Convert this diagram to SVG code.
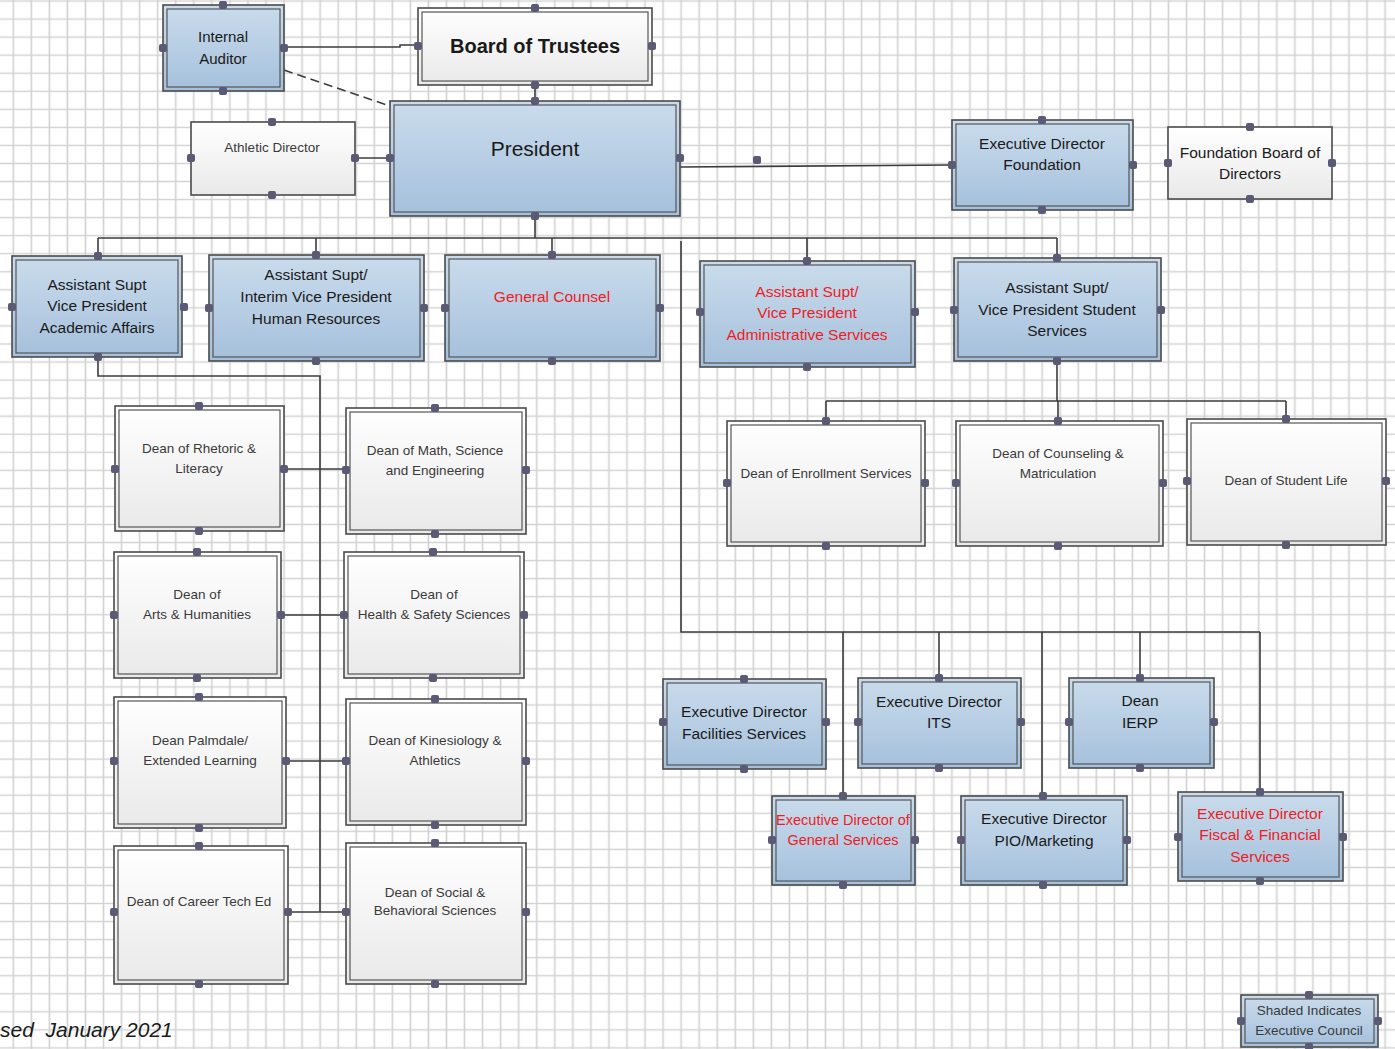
<svg xmlns="http://www.w3.org/2000/svg" width="1395" height="1049" viewBox="0 0 1395 1049">
<defs>
<pattern id="grid" patternUnits="userSpaceOnUse" x="4.3" y="-8" width="18.05" height="18.05">
<path d="M9 0 V18.05 M0 9 H18.05" stroke="#d2d2d2" stroke-width="1.6" fill="none"/>
</pattern>
<linearGradient id="gb" x1="0" y1="0" x2="0" y2="1">
<stop offset="0" stop-color="#cadcec"/>
<stop offset="1" stop-color="#a5c0dc"/>
</linearGradient>
<linearGradient id="gw" x1="0" y1="0" x2="0" y2="1">
<stop offset="0" stop-color="#ffffff"/>
<stop offset="1" stop-color="#e9e9e9"/>
</linearGradient>
<style>
.b{fill:url(#gb);stroke:#4a4a4a;stroke-width:1.6}
.w{fill:url(#gw);stroke:#4a4a4a;stroke-width:1.6}
.i{fill:none;stroke:#555;stroke-width:1.2}
.t{font-family:"Liberation Sans",Arial,sans-serif;font-size:15.5px;fill:#1a1a1a;text-anchor:middle}
.s{font-family:"Liberation Sans",Arial,sans-serif;font-size:13.5px;fill:#3a3a3a;text-anchor:middle}
.r{fill:#ee1c24}
.c{fill:none;stroke:#3c3c3c;stroke-width:1.6}
.d{fill:#5a5a74}
</style>
</defs>
<rect x="0" y="0" width="1395" height="1049" fill="#ffffff"/>
<rect x="0" y="0" width="1395" height="1049" fill="url(#grid)"/>

<g id="connectors">
<path class="c" d="M284 47 H400 V45 H418"/>
<path class="c" d="M284 70 L390 106" stroke-dasharray="9 5" stroke="#555"/>
<path class="c" d="M535 85 V101"/>
<path class="c" d="M355 158 H390"/>
<path class="c" d="M680 167 L952 165"/>
<path class="c" d="M535 216 V238 M98 238 H1057 M98 238 V256 M316 238 V255 M552 238 V255 M807 238 V261 M1057 238 V258"/>
<path class="c" d="M681 241 V632 H1260 M843 632 V796 M939 632 V678 M1042 632 V796 M1140 632 V678 M1260 632 V792"/>
<path class="c" d="M1057 361 V401 M826 401 H1286 M826 401 V421 M1058 401 V421 M1286 401 V419"/>
<path class="c" d="M98 357 V376 H320 V912 M284 469 H346 M281 615 H344 M286 761 H346 M288 912 H346"/>
<rect class="d" x="753" y="156" width="8" height="8" rx="2"/>
</g>

<g id="internal-auditor">
<rect class="b" x="163" y="5" width="121" height="86"/><rect class="i" x="167" y="9" width="113" height="78"/>
<text class="t" x="223" y="41.5" style="font-size:15px">Internal</text><text class="t" x="223" y="63.5" style="font-size:15px">Auditor</text>
<rect class="d" x="219" y="1" width="8" height="8" rx="2"/><rect class="d" x="219" y="87" width="8" height="8" rx="2"/><rect class="d" x="159" y="44" width="8" height="8" rx="2"/><rect class="d" x="280" y="44" width="8" height="8" rx="2"/>
</g>

<g id="board-of-trustees">
<rect class="w" x="418" y="8" width="234" height="77"/><rect class="i" x="422" y="12" width="226" height="69"/>
<text class="t" x="535" y="53" style="font-weight:bold;font-size:20px">Board of Trustees</text>
<rect class="d" x="531" y="4" width="8" height="8" rx="2"/><rect class="d" x="531" y="81" width="8" height="8" rx="2"/><rect class="d" x="414" y="42" width="8" height="8" rx="2"/><rect class="d" x="648" y="42" width="8" height="8" rx="2"/>
</g>

<g id="president">
<rect class="b" x="390" y="101" width="290" height="115"/><rect class="i" x="394" y="105" width="282" height="107"/>
<text class="t" x="535" y="155.5" style="font-size:21px">President</text>
<rect class="d" x="531" y="97" width="8" height="8" rx="2"/><rect class="d" x="531" y="212" width="8" height="8" rx="2"/><rect class="d" x="386" y="154" width="8" height="8" rx="2"/><rect class="d" x="676" y="154" width="8" height="8" rx="2"/>
</g>

<g id="athletic-director">
<rect class="w" x="191" y="122" width="164" height="73"/>
<text class="s" x="272" y="152">Athletic Director</text>
<rect class="d" x="268" y="118" width="8" height="8" rx="2"/><rect class="d" x="268" y="191" width="8" height="8" rx="2"/><rect class="d" x="187" y="154" width="8" height="8" rx="2"/><rect class="d" x="351" y="154" width="8" height="8" rx="2"/>
</g>

<g id="exec-director-foundation">
<rect class="b" x="952" y="120" width="181" height="90"/><rect class="i" x="956" y="124" width="173" height="82"/>
<text class="t" x="1042" y="148.5">Executive Director</text><text class="t" x="1042" y="169.5">Foundation</text>
<rect class="d" x="1038" y="116" width="8" height="8" rx="2"/><rect class="d" x="1038" y="206" width="8" height="8" rx="2"/><rect class="d" x="948" y="161" width="8" height="8" rx="2"/><rect class="d" x="1129" y="161" width="8" height="8" rx="2"/>
</g>

<g id="foundation-board">
<rect class="w" x="1168" y="127" width="164" height="72"/>
<text class="t" x="1250" y="157.5">Foundation Board of</text><text class="t" x="1250" y="178.5">Directors</text>
<rect class="d" x="1246" y="123" width="8" height="8" rx="2"/><rect class="d" x="1246" y="195" width="8" height="8" rx="2"/><rect class="d" x="1164" y="159" width="8" height="8" rx="2"/><rect class="d" x="1328" y="159" width="8" height="8" rx="2"/>
</g>

<g id="vp-academic-affairs">
<rect class="b" x="12" y="256" width="170" height="101"/><rect class="i" x="16" y="260" width="162" height="93"/>
<text class="t" x="97" y="289.5">Assistant Supt</text><text class="t" x="97" y="310.5">Vice President</text><text class="t" x="97" y="332.5">Academic Affairs</text>
<rect class="d" x="94" y="252" width="8" height="8" rx="2"/><rect class="d" x="94" y="353" width="8" height="8" rx="2"/><rect class="d" x="8" y="303" width="8" height="8" rx="2"/><rect class="d" x="180" y="303" width="8" height="8" rx="2"/>
</g>

<g id="vp-human-resources">
<rect class="b" x="209" y="255" width="215" height="106"/><rect class="i" x="213" y="259" width="207" height="98"/>
<text class="t" x="316" y="279.5">Assistant Supt/</text><text class="t" x="316" y="301.5">Interim Vice President</text><text class="t" x="316" y="323.5">Human Resources</text>
<rect class="d" x="312" y="251" width="8" height="8" rx="2"/><rect class="d" x="312" y="357" width="8" height="8" rx="2"/><rect class="d" x="205" y="304" width="8" height="8" rx="2"/><rect class="d" x="420" y="304" width="8" height="8" rx="2"/>
</g>

<g id="general-counsel">
<rect class="b" x="445" y="255" width="215" height="106"/><rect class="i" x="449" y="259" width="207" height="98"/>
<text class="t r" x="552" y="301.5">General Counsel</text>
<rect class="d" x="548" y="251" width="8" height="8" rx="2"/><rect class="d" x="548" y="357" width="8" height="8" rx="2"/><rect class="d" x="441" y="304" width="8" height="8" rx="2"/><rect class="d" x="656" y="304" width="8" height="8" rx="2"/>
</g>

<g id="vp-administrative-services">
<rect class="b" x="700" y="261" width="215" height="106"/><rect class="i" x="704" y="265" width="207" height="98"/>
<text class="t r" x="807" y="296.5">Assistant Supt/</text><text class="t r" x="807" y="317.5">Vice President</text><text class="t r" x="807" y="339.5">Administrative Services</text>
<rect class="d" x="803" y="257" width="8" height="8" rx="2"/><rect class="d" x="803" y="363" width="8" height="8" rx="2"/><rect class="d" x="696" y="308" width="8" height="8" rx="2"/><rect class="d" x="911" y="308" width="8" height="8" rx="2"/>
</g>

<g id="vp-student-services">
<rect class="b" x="954" y="258" width="207" height="103"/><rect class="i" x="958" y="262" width="199" height="95"/>
<text class="t" x="1057" y="292.5">Assistant Supt/</text><text class="t" x="1057" y="314.5">Vice President Student</text><text class="t" x="1057" y="335.5">Services</text>
<rect class="d" x="1053" y="254" width="8" height="8" rx="2"/><rect class="d" x="1053" y="357" width="8" height="8" rx="2"/><rect class="d" x="950" y="306" width="8" height="8" rx="2"/><rect class="d" x="1157" y="306" width="8" height="8" rx="2"/>
</g>

<g id="dean-rhetoric">
<rect class="w" x="115" y="406" width="169" height="125"/><rect class="i" x="119" y="410" width="161" height="117"/>
<text class="s" x="199" y="453">Dean of Rhetoric &amp;</text><text class="s" x="199" y="473">Literacy</text>
<rect class="d" x="195" y="402" width="8" height="8" rx="2"/><rect class="d" x="195" y="527" width="8" height="8" rx="2"/><rect class="d" x="111" y="465" width="8" height="8" rx="2"/><rect class="d" x="280" y="465" width="8" height="8" rx="2"/>
</g>

<g id="dean-math">
<rect class="w" x="346" y="408" width="180" height="126"/><rect class="i" x="350" y="412" width="172" height="118"/>
<text class="s" x="435" y="455">Dean of Math, Science</text><text class="s" x="435" y="475">and Engineering</text>
<rect class="d" x="431" y="404" width="8" height="8" rx="2"/><rect class="d" x="431" y="530" width="8" height="8" rx="2"/><rect class="d" x="342" y="466" width="8" height="8" rx="2"/><rect class="d" x="522" y="466" width="8" height="8" rx="2"/>
</g>

<g id="dean-arts">
<rect class="w" x="114" y="552" width="167" height="126"/><rect class="i" x="118" y="556" width="159" height="118"/>
<text class="s" x="197" y="599">Dean of</text><text class="s" x="197" y="619">Arts &amp; Humanities</text>
<rect class="d" x="193" y="548" width="8" height="8" rx="2"/><rect class="d" x="193" y="674" width="8" height="8" rx="2"/><rect class="d" x="110" y="611" width="8" height="8" rx="2"/><rect class="d" x="277" y="611" width="8" height="8" rx="2"/>
</g>

<g id="dean-health">
<rect class="w" x="344" y="552" width="180" height="126"/><rect class="i" x="348" y="556" width="172" height="118"/>
<text class="s" x="434" y="599">Dean of</text><text class="s" x="434" y="619">Health &amp; Safety Sciences</text>
<rect class="d" x="429" y="548" width="8" height="8" rx="2"/><rect class="d" x="429" y="674" width="8" height="8" rx="2"/><rect class="d" x="340" y="611" width="8" height="8" rx="2"/><rect class="d" x="520" y="611" width="8" height="8" rx="2"/>
</g>

<g id="dean-palmdale">
<rect class="w" x="114" y="697" width="172" height="131"/><rect class="i" x="118" y="701" width="164" height="123"/>
<text class="s" x="200" y="745">Dean Palmdale/</text><text class="s" x="200" y="765">Extended Learning</text>
<rect class="d" x="195" y="693" width="8" height="8" rx="2"/><rect class="d" x="195" y="824" width="8" height="8" rx="2"/><rect class="d" x="110" y="757" width="8" height="8" rx="2"/><rect class="d" x="282" y="757" width="8" height="8" rx="2"/>
</g>

<g id="dean-kinesiology">
<rect class="w" x="346" y="699" width="180" height="126"/><rect class="i" x="350" y="703" width="172" height="118"/>
<text class="s" x="435" y="745">Dean of Kinesiology &amp;</text><text class="s" x="435" y="765">Athletics</text>
<rect class="d" x="431" y="695" width="8" height="8" rx="2"/><rect class="d" x="431" y="821" width="8" height="8" rx="2"/><rect class="d" x="342" y="757" width="8" height="8" rx="2"/><rect class="d" x="522" y="757" width="8" height="8" rx="2"/>
</g>

<g id="dean-career-tech">
<rect class="w" x="114" y="846" width="174" height="138"/><rect class="i" x="118" y="850" width="166" height="130"/>
<text class="s" x="199" y="906">Dean of Career Tech Ed</text>
<rect class="d" x="195" y="842" width="8" height="8" rx="2"/><rect class="d" x="195" y="980" width="8" height="8" rx="2"/><rect class="d" x="110" y="908" width="8" height="8" rx="2"/><rect class="d" x="284" y="908" width="8" height="8" rx="2"/>
</g>

<g id="dean-social">
<rect class="w" x="346" y="843" width="180" height="141"/><rect class="i" x="350" y="847" width="172" height="133"/>
<text class="s" x="435" y="897">Dean of Social &amp;</text><text class="s" x="435" y="915">Behavioral Sciences</text>
<rect class="d" x="431" y="839" width="8" height="8" rx="2"/><rect class="d" x="431" y="980" width="8" height="8" rx="2"/><rect class="d" x="342" y="908" width="8" height="8" rx="2"/><rect class="d" x="522" y="908" width="8" height="8" rx="2"/>
</g>

<g id="dean-enrollment">
<rect class="w" x="727" y="421" width="198" height="125"/><rect class="i" x="731" y="425" width="190" height="117"/>
<text class="s" x="826" y="478">Dean of Enrollment Services</text>
<rect class="d" x="822" y="417" width="8" height="8" rx="2"/><rect class="d" x="822" y="542" width="8" height="8" rx="2"/><rect class="d" x="723" y="479" width="8" height="8" rx="2"/><rect class="d" x="921" y="479" width="8" height="8" rx="2"/>
</g>

<g id="dean-counseling">
<rect class="w" x="956" y="421" width="207" height="125"/><rect class="i" x="960" y="425" width="199" height="117"/>
<text class="s" x="1058" y="458">Dean of Counseling &amp;</text><text class="s" x="1058" y="478">Matriculation</text>
<rect class="d" x="1054" y="417" width="8" height="8" rx="2"/><rect class="d" x="1054" y="542" width="8" height="8" rx="2"/><rect class="d" x="952" y="479" width="8" height="8" rx="2"/><rect class="d" x="1159" y="479" width="8" height="8" rx="2"/>
</g>

<g id="dean-student-life">
<rect class="w" x="1187" y="419" width="199" height="126"/><rect class="i" x="1191" y="423" width="191" height="118"/>
<text class="s" x="1286" y="485">Dean of Student Life</text>
<rect class="d" x="1282" y="415" width="8" height="8" rx="2"/><rect class="d" x="1282" y="541" width="8" height="8" rx="2"/><rect class="d" x="1183" y="477" width="8" height="8" rx="2"/><rect class="d" x="1382" y="477" width="8" height="8" rx="2"/>
</g>

<g id="exec-facilities">
<rect class="b" x="663" y="679" width="163" height="90"/><rect class="i" x="667" y="683" width="155" height="82"/>
<text class="t" x="744" y="716.5">Executive Director</text><text class="t" x="744" y="738.5">Facilities Services</text>
<rect class="d" x="740" y="675" width="8" height="8" rx="2"/><rect class="d" x="740" y="765" width="8" height="8" rx="2"/><rect class="d" x="659" y="718" width="8" height="8" rx="2"/><rect class="d" x="822" y="718" width="8" height="8" rx="2"/>
</g>

<g id="exec-its">
<rect class="b" x="858" y="678" width="163" height="90"/><rect class="i" x="862" y="682" width="155" height="82"/>
<text class="t" x="939" y="706.5">Executive Director</text><text class="t" x="939" y="727.5">ITS</text>
<rect class="d" x="935" y="674" width="8" height="8" rx="2"/><rect class="d" x="935" y="764" width="8" height="8" rx="2"/><rect class="d" x="854" y="718" width="8" height="8" rx="2"/><rect class="d" x="1017" y="718" width="8" height="8" rx="2"/>
</g>

<g id="dean-ierp">
<rect class="b" x="1069" y="678" width="145" height="90"/><rect class="i" x="1073" y="682" width="137" height="82"/>
<text class="t" x="1140" y="705.5">Dean</text><text class="t" x="1140" y="727.5">IERP</text>
<rect class="d" x="1136" y="674" width="8" height="8" rx="2"/><rect class="d" x="1136" y="764" width="8" height="8" rx="2"/><rect class="d" x="1065" y="718" width="8" height="8" rx="2"/><rect class="d" x="1210" y="718" width="8" height="8" rx="2"/>
</g>

<g id="exec-general-services">
<rect class="b" x="772" y="796" width="143" height="89"/><rect class="i" x="776" y="800" width="135" height="81"/>
<text class="t r" x="843" y="825" style="font-size:14.5px">Executive Director of</text><text class="t r" x="843" y="845" style="font-size:14.5px">General Services</text>
<rect class="d" x="839" y="792" width="8" height="8" rx="2"/><rect class="d" x="839" y="881" width="8" height="8" rx="2"/><rect class="d" x="768" y="836" width="8" height="8" rx="2"/><rect class="d" x="911" y="836" width="8" height="8" rx="2"/>
</g>

<g id="exec-pio-marketing">
<rect class="b" x="961" y="796" width="166" height="89"/><rect class="i" x="965" y="800" width="158" height="81"/>
<text class="t" x="1044" y="823.5">Executive Director</text><text class="t" x="1044" y="845.5">PIO/Marketing</text>
<rect class="d" x="1039" y="792" width="8" height="8" rx="2"/><rect class="d" x="1039" y="881" width="8" height="8" rx="2"/><rect class="d" x="957" y="836" width="8" height="8" rx="2"/><rect class="d" x="1123" y="836" width="8" height="8" rx="2"/>
</g>

<g id="exec-fiscal">
<rect class="b" x="1178" y="792" width="165" height="89"/><rect class="i" x="1182" y="796" width="157" height="81"/>
<text class="t r" x="1260" y="818.5">Executive Director</text><text class="t r" x="1260" y="839.5">Fiscal &amp; Financial</text><text class="t r" x="1260" y="861.5">Services</text>
<rect class="d" x="1256" y="788" width="8" height="8" rx="2"/><rect class="d" x="1256" y="877" width="8" height="8" rx="2"/><rect class="d" x="1174" y="833" width="8" height="8" rx="2"/><rect class="d" x="1339" y="833" width="8" height="8" rx="2"/>
</g>

<g id="legend">
<rect class="b" x="1241" y="995" width="137" height="52"/><rect class="i" x="1245" y="999" width="129" height="44"/>
<text class="s" x="1309" y="1015" style="font-size:13.5px">Shaded Indicates</text><text class="s" x="1309" y="1035" style="font-size:13.5px">Executive Council</text>
<rect class="d" x="1305" y="991" width="8" height="8" rx="2"/><rect class="d" x="1305" y="1043" width="8" height="8" rx="2"/><rect class="d" x="1237" y="1017" width="8" height="8" rx="2"/><rect class="d" x="1374" y="1017" width="8" height="8" rx="2"/>
</g>

<text x="0" y="1037" style="font-family:'Liberation Sans',Arial,sans-serif;font-size:21px;font-style:italic;fill:#1a1a1a" xml:space="preserve">sed  January 2021</text>
</svg>
